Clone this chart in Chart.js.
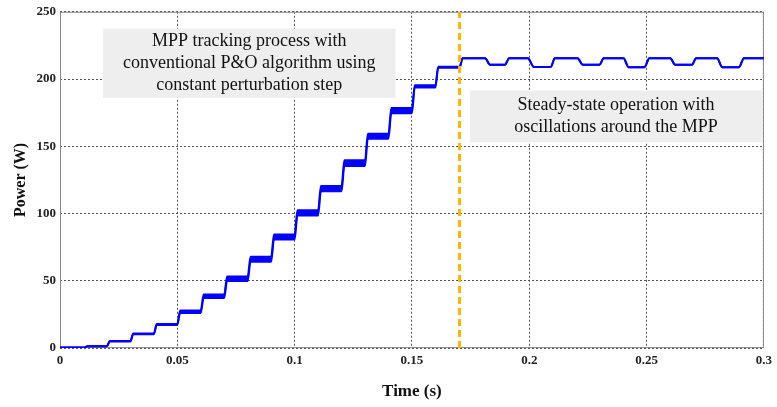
<!DOCTYPE html>
<html>
<head>
<meta charset="utf-8">
<script src="https://cdn.jsdelivr.net/npm/chart.js@4/dist/chart.umd.min.js"></script>
<style>
  body { margin: 0; background: #fff; }
  canvas { display: block; }
</style>
</head>
<body>
<canvas id="power" width="777" height="407"></canvas>
<script>
// time (s) and the upper / lower edge of the P&O oscillation band (W)
const time = [
  0.0000, 0.0105, 0.0117, 0.0200, 0.0212, 0.0300, 0.0312, 0.0400, 0.0412,
  0.0500, 0.0512, 0.0600, 0.0612, 0.0700, 0.0712, 0.0800, 0.0812, 0.0900,
  0.0912, 0.1000, 0.1012, 0.1100, 0.1112, 0.1200, 0.1212, 0.1300, 0.1312,
  0.1400, 0.1412, 0.1500, 0.1512, 0.1600, 0.1612, 0.1703, 0.1716,
  0.1812, 0.1833, 0.1897, 0.1914, 0.1994, 0.2020, 0.2092, 0.2109,
  0.2206, 0.2228, 0.2300, 0.2317, 0.2402, 0.2423, 0.2491, 0.2512,
  0.2601, 0.2622, 0.2694, 0.2711, 0.2801, 0.2822, 0.2894, 0.2915, 0.3000
];
const powerUpper = [
  0.3, 0.3, 1.3, 1.3, 5.2, 5.2, 10.8, 10.8, 17.9,
  17.9, 27.9, 27.9, 39.8, 39.8, 53.2, 53.2, 67.8, 67.8,
  84.4, 84.4, 102.4, 102.4, 120.4, 120.4, 139.6, 139.6, 159.4,
  159.4, 178.4, 178.4, 195.3, 195.3, 209.2, 209.2, 215.5,
  215.5, 210.7, 210.7, 215.5, 215.5, 209.0, 209.0, 215.5,
  215.5, 210.7, 210.7, 215.5, 215.5, 208.8, 208.8, 215.5,
  215.5, 210.7, 210.7, 215.5, 215.5, 208.8, 208.8, 215.5, 215.5
];
const powerLower = [
  0.3, 0.3, 1.3, 1.3, 4.8, 4.8, 10.2, 10.2, 17.1,
  17.1, 26.1, 26.1, 37.2, 37.2, 49.8, 49.8, 64.2, 64.2,
  80.6, 80.6, 98.6, 98.6, 116.6, 116.6, 135.4, 135.4, 155.6,
  155.6, 174.6, 174.6, 193.7, 193.7, 208.4, 208.4, 215.5,
  215.5, 210.7, 210.7, 215.5, 215.5, 209.0, 209.0, 215.5,
  215.5, 210.7, 210.7, 215.5, 215.5, 208.8, 208.8, 215.5,
  215.5, 210.7, 210.7, 215.5, 215.5, 208.8, 208.8, 215.5, 215.5
];

// instant where steady state starts (dashed marker)
const steadyStart = 0.1703;

const xTickValues = [0, 0.05, 0.1, 0.15, 0.2, 0.25, 0.3];
const xTickLabels = ["0", "0.05", "0.1", "0.15", "0.2", "0.25", "0.3"];
const yTickValues = [0, 50, 100, 150, 200, 250];
const yTickLabels = ["0", "50", "100", "150", "200", "250"];

const noteTracking = [
  "MPP tracking process with",
  "conventional P&O algorithm using",
  "constant perturbation step"
];
const noteSteady = [
  "Steady-state operation with",
  "oscillations around the MPP"
];

const serif = "'Liberation Serif', 'Times New Roman', serif";

// grey text boxes + full frame round the plot
const boxes = {
  id: "boxes",
  beforeDatasetsDraw(chart) {
    const c = chart.ctx;
    const x = chart.scales.x;
    const y = chart.scales.y;
    const a = chart.chartArea;

    function note(x0, x1, y0, y1, lines) {
      const l = x.getPixelForValue(x0), r = x.getPixelForValue(x1);
      const t = y.getPixelForValue(y1), b = y.getPixelForValue(y0);
      c.save();
      c.fillStyle = "#eeeeee";
      c.fillRect(l, t, r - l, b - t);
      c.fillStyle = "#111";
      c.font = "18px " + serif;
      c.textAlign = "center";
      c.textBaseline = "middle";
      const mid = (t + b) / 2;
      lines.forEach((s, i) => {
        c.fillText(s, (l + r) / 2, mid + (i - (lines.length - 1) / 2) * 22);
      });
      c.restore();
    }
    note(0.0183, 0.1430, 186, 237.5, noteTracking);
    note(0.1748, 0.2992, 153, 191.5, noteSteady);

    c.save();
    c.strokeStyle = "#8a8a8a";
    c.lineWidth = 1;
    c.strokeRect(a.left + 0.5, a.top + 0.5, a.right - a.left - 1, a.bottom - a.top - 1);
    c.restore();
  }
};

const ctx = document.getElementById("power").getContext("2d");

new Chart(ctx, {
  type: "line",
  data: {
    datasets: [
      {
        label: "upper",
        data: time.map((t, i) => ({ x: t, y: powerUpper[i] })),
        borderColor: "#0000ff",
        borderWidth: 2,
        cubicInterpolationMode: "monotone",
        fill: false,
        order: 0
      },
      {
        label: "lower",
        data: time.map((t, i) => ({ x: t, y: powerLower[i] })),
        borderColor: "#0000ff",
        backgroundColor: "#0000ff",
        borderWidth: 2,
        cubicInterpolationMode: "monotone",
        fill: "-1",
        order: 0
      },
      {
        label: "steady",
        data: [{ x: steadyStart, y: 0 }, { x: steadyStart, y: 250 }],
        borderColor: "#ffb400",
        borderWidth: 3,
        borderDash: [7, 4],
        fill: false,
        order: -1
      }
    ]
  },
  options: {
    responsive: false,
    animation: false,
    layout: { padding: { top: 11, right: 10, left: 0, bottom: 0 } },
    elements: { point: { radius: 0 } },
    plugins: {
      legend: { display: false },
      tooltip: { enabled: false }
    },
    scales: {
      x: {
        type: "linear",
        min: 0,
        max: 0.3,
        afterBuildTicks: (s) => { s.ticks = xTickValues.map((v) => ({ value: v })); },
        afterFit: (s) => { s.height = 59; },
        grid: { color: "#555", drawTicks: false },
        border: { display: false, dash: [2, 2] },
        ticks: {
          padding: 5,
          color: "#222",
          font: { family: serif, weight: "bold", size: 13 },
          callback: (v, i) => xTickLabels[i]
        },
        title: {
          display: true,
          text: "Time (s)",
          color: "#111",
          font: { family: serif, weight: "bold", size: 17 },
          padding: { top: 0, bottom: 5 }
        }
      },
      y: {
        min: 0,
        max: 250,
        afterBuildTicks: (s) => { s.ticks = yTickValues.map((v) => ({ value: v })); },
        afterFit: (s) => { s.width = 60; },
        grid: { color: "#555", drawTicks: false },
        border: { display: false, dash: [2, 2] },
        ticks: {
          padding: 4,
          color: "#222",
          font: { family: serif, weight: "bold", size: 13 },
          callback: (v, i) => yTickLabels[i]
        },
        title: {
          display: true,
          text: "Power (W)",
          color: "#111",
          font: { family: serif, weight: "bold", size: 16 },
          padding: { top: 11, bottom: 0 }
        }
      }
    }
  },
  plugins: [boxes]
});
</script>
</body>
</html>
